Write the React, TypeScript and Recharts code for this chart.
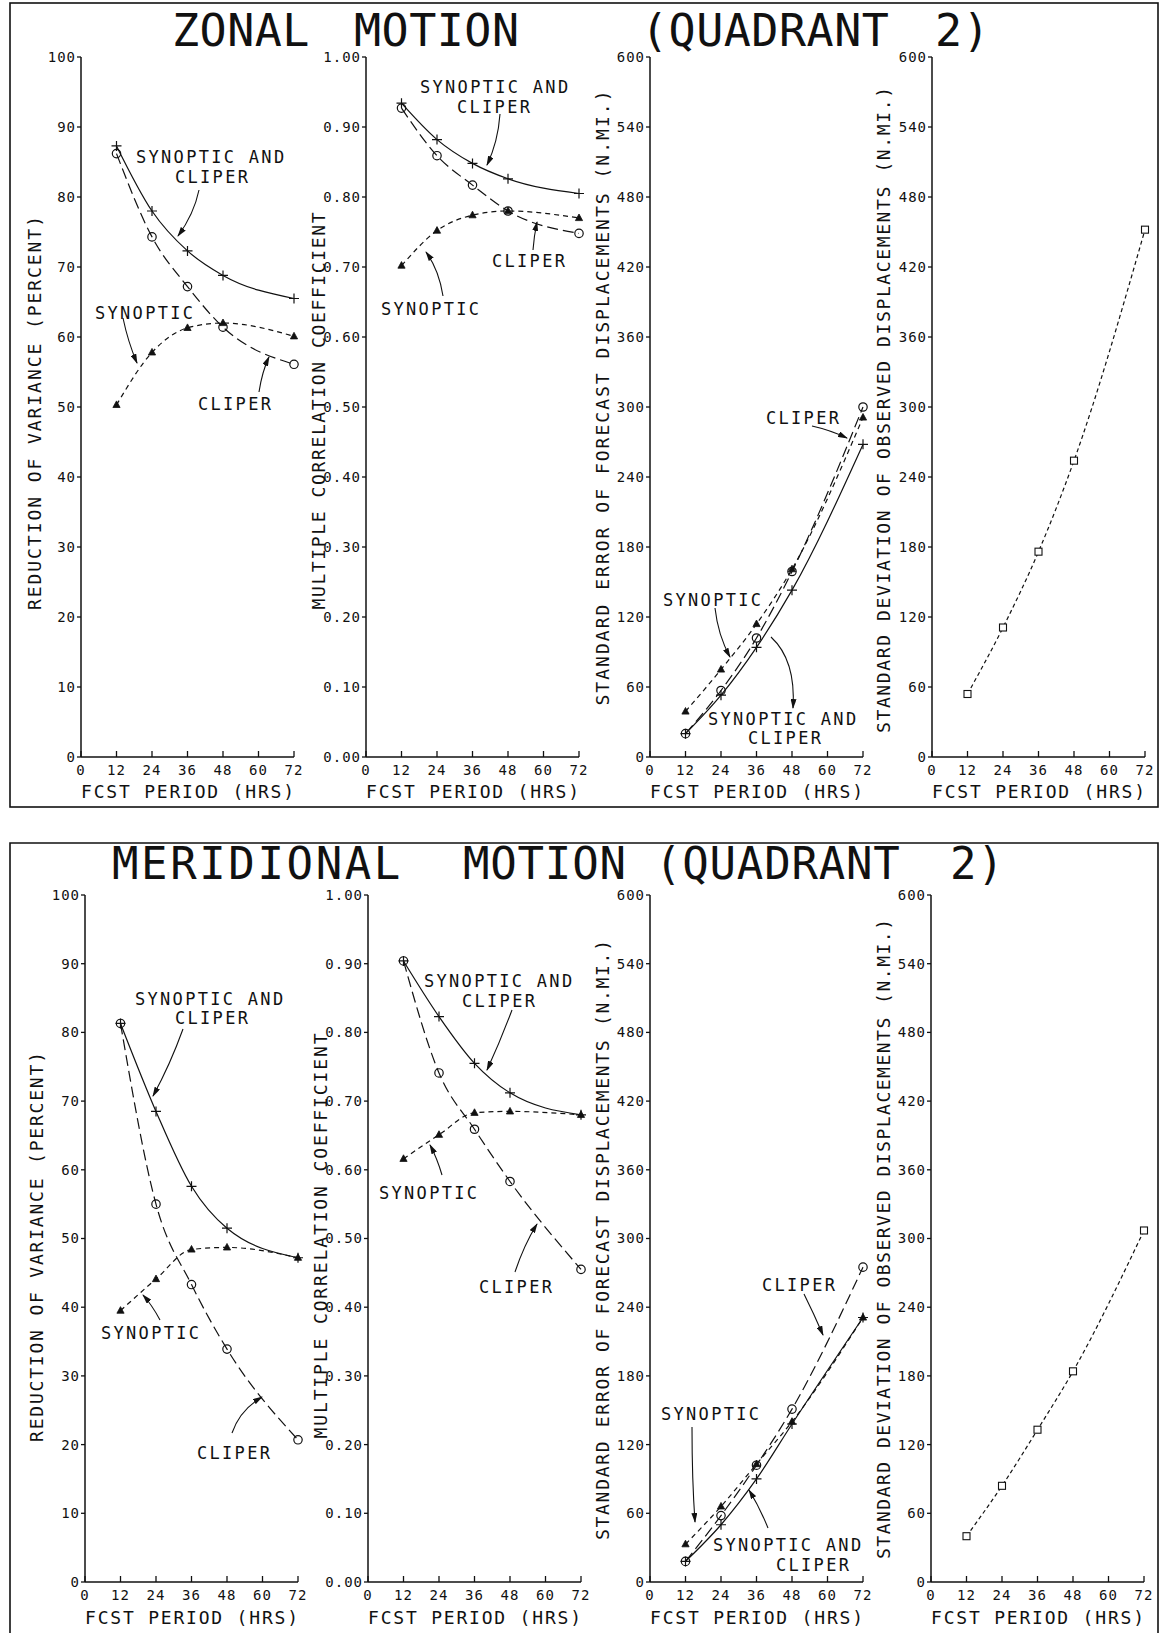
import React from 'react';
import { LineChart, Line, XAxis, YAxis } from 'recharts';

// forecast periods that carry a plotted point
const hours = [12, 24, 36, 48, 72];
const xTicks = [0, 12, 24, 36, 48, 60, 72];
const varTicks = [0, 10, 20, 30, 40, 50, 60, 70, 80, 90, 100];
const corTicks = [0, 0.1, 0.2, 0.3, 0.4, 0.5, 0.6, 0.7, 0.8, 0.9, 1.0];
const nmiTicks = [0, 60, 120, 180, 240, 300, 360, 420, 480, 540, 600];

// zonal motion (quadrant 2)
const zVarBoth = [87.3, 78.0, 72.3, 68.8, 65.5];
const zVarCliper = [86.2, 74.3, 67.2, 61.4, 56.1];
const zVarSyn = [50.3, 57.8, 61.3, 62.0, 60.1];
const zCorBoth = [0.934, 0.882, 0.848, 0.826, 0.805];
const zCorCliper = [0.927, 0.859, 0.817, 0.78, 0.748];
const zCorSyn = [0.702, 0.752, 0.774, 0.78, 0.77];
const zErrBoth = [20, 53, 94, 143, 268];
const zErrCliper = [20, 57, 102, 159, 300];
const zErrSyn = [39, 75, 114, 161, 291];
const zStd = [54, 111, 176, 254, 452];

// meridional motion (quadrant 2)
const mVarBoth = [81.3, 68.5, 57.6, 51.5, 47.2];
const mVarCliper = [81.3, 55.0, 43.3, 33.9, 20.7];
const mVarSyn = [39.5, 44.1, 48.4, 48.7, 47.2];
const mCorBoth = [0.904, 0.823, 0.755, 0.712, 0.68];
const mCorCliper = [0.904, 0.741, 0.659, 0.583, 0.455];
const mCorSyn = [0.616, 0.651, 0.683, 0.685, 0.68];
const mErrBoth = [18, 50, 90, 138, 231];
const mErrCliper = [18, 58, 102, 151, 275];
const mErrSyn = [33, 66, 103, 140, 231];
const mStd = [40, 84, 133, 184, 307];

const rows3 = (both: number[], cliper: number[], syn: number[]) =>
  hours.map((h, i) => ({ h, both: both[i], cliper: cliper[i], syn: syn[i] }));
const rows1 = (std: number[]) => hours.map((h, i) => ({ h, std: std[i] }));

const INK = '#111';
const FONT = 'DejaVu Sans Mono';
const PW = 213;
const TOP_ROW = { y: 57, h: 700, xs: [81, 366, 650, 932] };
const BOT_ROW = { y: 895, h: 687, xs: [85, 368, 650, 931] };

// markers
const plusDot = (p: any) =>
  p.cx == null ? <g key={`n${p.index}`} /> : (
    <path key={`p${p.index}`} d={`M${p.cx - 5},${p.cy}H${p.cx + 5}M${p.cx},${p.cy - 5}V${p.cy + 5}`} stroke={INK} strokeWidth={1.2} fill="none" />
  );
const circleDot = (p: any) =>
  p.cx == null ? <g key={`n${p.index}`} /> : (
    <circle key={`c${p.index}`} cx={p.cx} cy={p.cy} r={4.2} fill="none" stroke={INK} strokeWidth={1.2} />
  );
const triDot = (p: any) =>
  p.cx == null ? <g key={`n${p.index}`} /> : (
    <path key={`t${p.index}`} d={`M${p.cx},${p.cy - 4}L${p.cx + 3.6},${p.cy + 2.6}L${p.cx - 3.6},${p.cy + 2.6}Z`} fill={INK} stroke={INK} strokeWidth={0.8} />
  );
const squareDot = (p: any) =>
  p.cx == null ? <g key={`n${p.index}`} /> : (
    <rect key={`s${p.index}`} x={p.cx - 3.5} y={p.cy - 3.5} width={7} height={7} fill="#fff" stroke={INK} strokeWidth={1.1} />
  );

const threeSeries = [
  { key: 'syn', dash: '5 4', dot: triDot },
  { key: 'cliper', dash: '11 5', dot: circleDot },
  { key: 'both', dash: undefined, dot: plusDot },
];
const stdSeries = [{ key: 'std', dash: '4 3', dot: squareDot }];

const tickStyle = { fontSize: 14, fill: INK, fontFamily: FONT, letterSpacing: 1 };
const L = 60, R = 10, T = 10, B = 30;

interface PanelProps {
  x: number; y: number; h: number;
  data: any[];
  series: { key: string; dash?: string; dot: (p: any) => React.ReactElement }[];
  yDomain: [number, number];
  yTicks: number[];
  fmt: (v: number) => string;
}

const Panel: React.FC<PanelProps> = ({ x, y, h, data, series, yDomain, yTicks, fmt }) => (
  <div style={{ position: 'absolute', left: x - L, top: y - T }}>
    <LineChart width={PW + L + R} height={h + T + B} data={data} margin={{ top: T, right: R, bottom: 0, left: 0 }}>
      <XAxis xAxisId="b" dataKey="h" type="number" domain={[0, 72]} ticks={xTicks} interval={0} height={B}
        tickSize={-6} tickMargin={14} tick={tickStyle} axisLine={{ stroke: INK, strokeWidth: 1.5 }} tickLine={{ stroke: INK, strokeWidth: 1.3 }} />
      <XAxis xAxisId="t" orientation="top" dataKey="h" type="number" domain={[0, 72]} ticks={xTicks} interval={0} height={0}
        tickSize={-6} tick={false} axisLine={{ stroke: INK, strokeWidth: 1.5 }} tickLine={{ stroke: INK, strokeWidth: 1.3 }} />
      <YAxis yAxisId="l" type="number" domain={yDomain} ticks={yTicks} interval={0} width={L} tickSize={4} tickMargin={1}
        tick={tickStyle} tickFormatter={fmt} axisLine={{ stroke: INK, strokeWidth: 1.5 }} tickLine={{ stroke: INK, strokeWidth: 1.3 }} />
      <YAxis yAxisId="r" orientation="right" type="number" domain={yDomain} ticks={yTicks} interval={0} width={0}
        tickSize={-6} tick={false} axisLine={{ stroke: INK, strokeWidth: 1.5 }} tickLine={{ stroke: INK, strokeWidth: 1.3 }} />
      <Line xAxisId="t" yAxisId="r" dataKey={series[0].key} stroke="none" dot={false} activeDot={false} isAnimationActive={false} />
      {series.map((s) => (
        <Line key={s.key} xAxisId="b" yAxisId="l" type="monotone" dataKey={s.key} stroke={INK} strokeWidth={1.2}
          strokeDasharray={s.dash} dot={s.dot} activeDot={false} isAnimationActive={false} />
      ))}
    </LineChart>
  </div>
);

const fmtInt = (v: number) => String(v);
const fmtCor = (v: number) => v.toFixed(2);

// annotation labels: [text, x, centre y]
const notes: [string, number, number][] = [
  ['SYNOPTIC AND', 136, 156], ['CLIPER', 175, 176], ['SYNOPTIC', 95, 312], ['CLIPER', 198, 403],
  ['SYNOPTIC AND', 420, 86], ['CLIPER', 457, 106], ['CLIPER', 492, 260], ['SYNOPTIC', 381, 308],
  ['CLIPER', 766, 417], ['SYNOPTIC', 663, 599], ['SYNOPTIC AND', 708, 718], ['CLIPER', 748, 737],
  ['SYNOPTIC AND', 135, 998], ['CLIPER', 175, 1017], ['SYNOPTIC', 101, 1332], ['CLIPER', 197, 1452],
  ['SYNOPTIC AND', 424, 980], ['CLIPER', 462, 1000], ['SYNOPTIC', 379, 1192], ['CLIPER', 479, 1286],
  ['CLIPER', 762, 1284], ['SYNOPTIC', 661, 1413], ['SYNOPTIC AND', 713, 1544], ['CLIPER', 776, 1564],
];
const arrows = [
  'M199,190 Q194,214 178,236', 'M123,318 Q128,342 137,363', 'M259,392 Q262,372 269,357',
  'M500,114 Q498,142 487,165', 'M443,296 Q439,270 426,252', 'M533,250 Q534,236 537,222',
  'M812,426 Q830,430 847,438', 'M715,608 Q718,635 730,657', 'M771,637 Q796,660 793,708',
  'M183,1029 Q170,1065 153,1096', 'M160,1320 Q152,1305 143,1295', 'M232,1433 Q240,1410 262,1397',
  'M512,1010 Q500,1042 487,1070', 'M442,1175 Q437,1158 430,1145', 'M515,1272 Q524,1245 537,1224',
  'M804,1294 Q814,1314 823,1335', 'M692,1427 Q692,1480 695,1522', 'M768,1528 Q760,1508 749,1490',
];
// rotated y titles: [text, x, centre y, length]
const yTitles: [string, number, number, number][] = [
  ['REDUCTION OF VARIANCE (PERCENT)', 34, 413, 394],
  ['MULTIPLE CORRELATION COEFFICIENT', 318, 411, 397],
  ['STANDARD ERROR OF FORECAST DISPLACEMENTS (N.MI.)', 602, 398, 615],
  ['STANDARD DEVIATION OF OBSERVED DISPLACEMENTS (N.MI.)', 883, 410, 646],
  ['REDUCTION OF VARIANCE (PERCENT)', 36, 1247, 390],
  ['MULTIPLE CORRELATION COEFFICIENT', 320, 1236, 405],
  ['STANDARD ERROR OF FORECAST DISPLACEMENTS (N.MI.)', 602, 1240, 600],
  ['STANDARD DEVIATION OF OBSERVED DISPLACEMENTS (N.MI.)', 883, 1239, 640],
];
// title words: [text, x, baseline, letter spacing]
const titleWords: [string, number, number, number][] = [
  ['ZONAL', 172, 46, 0.5], ['MOTION', 354, 46, 0.5], ['(QUADRANT', 641, 46, 0.5], ['2)', 935, 46, 0.5],
  ['MERIDIONAL', 112, 879, 2.6], ['MOTION', 463, 879, 0.8], ['(QUADRANT', 655, 879, 0.8], ['2)', 950, 879, 0.8],
];

const Overlay: React.FC = () => (
  <svg width={1161} height={1633} style={{ position: 'absolute', left: 0, top: 0, pointerEvents: 'none' }}
    fontFamily={FONT} fill={INK}>
    <defs>
      <marker id="head" viewBox="0 0 10 6" refX={9} refY={3} markerWidth={10} markerHeight={6} markerUnits="userSpaceOnUse" orient="auto">
        <path d="M0,0 L10,3 L0,6 Z" fill={INK} />
      </marker>
    </defs>
    <rect x={10} y={3} width={1148} height={804} fill="none" stroke={INK} strokeWidth={1.6} />
    <path d="M10,1633 V843 H1158 V1633" fill="none" stroke={INK} strokeWidth={1.6} />
    {titleWords.map(([t, x, y, ls], i) => (
      <text key={`w${i}`} x={x} y={y} fontSize={i < 4 ? 45 : 44} letterSpacing={ls}>{t}</text>
    ))}
    {yTitles.map(([t, x, y, len], i) => (
      <text key={`y${i}`} transform={`translate(${x},${y}) rotate(-90)`} textAnchor="middle" dominantBaseline="central"
        fontSize={18} textLength={len} lengthAdjust="spacing">{t}</text>
    ))}
    {[TOP_ROW, BOT_ROW].map((row, r) =>
      row.xs.map((x, i) => (
        <text key={`x${r}${i}`} x={x} y={row.y + row.h + (r === 0 ? 41 : 42)} fontSize={18}
          textLength={PW} lengthAdjust="spacing">FCST PERIOD (HRS)</text>
      ))
    )}
    {notes.map(([t, x, y], i) => (
      <text key={`n${i}`} x={x} y={y + 6.5} fontSize={17} letterSpacing={2.3}>{t}</text>
    ))}
    {arrows.map((d, i) => (
      <path key={`a${i}`} d={d} fill="none" stroke={INK} strokeWidth={1.1} markerEnd="url(#head)" />
    ))}
  </svg>
);

export default function App() {
  return (
    <div style={{ position: 'absolute', left: 0, top: 0, width: 1161, height: 1633, background: '#fff', fontFamily: FONT }}>
      <Panel x={TOP_ROW.xs[0]} y={TOP_ROW.y} h={TOP_ROW.h} data={rows3(zVarBoth, zVarCliper, zVarSyn)} series={threeSeries}
        yDomain={[0, 100]} yTicks={varTicks} fmt={fmtInt} />
      <Panel x={TOP_ROW.xs[1]} y={TOP_ROW.y} h={TOP_ROW.h} data={rows3(zCorBoth, zCorCliper, zCorSyn)} series={threeSeries}
        yDomain={[0, 1]} yTicks={corTicks} fmt={fmtCor} />
      <Panel x={TOP_ROW.xs[2]} y={TOP_ROW.y} h={TOP_ROW.h} data={rows3(zErrBoth, zErrCliper, zErrSyn)} series={threeSeries}
        yDomain={[0, 600]} yTicks={nmiTicks} fmt={fmtInt} />
      <Panel x={TOP_ROW.xs[3]} y={TOP_ROW.y} h={TOP_ROW.h} data={rows1(zStd)} series={stdSeries}
        yDomain={[0, 600]} yTicks={nmiTicks} fmt={fmtInt} />
      <Panel x={BOT_ROW.xs[0]} y={BOT_ROW.y} h={BOT_ROW.h} data={rows3(mVarBoth, mVarCliper, mVarSyn)} series={threeSeries}
        yDomain={[0, 100]} yTicks={varTicks} fmt={fmtInt} />
      <Panel x={BOT_ROW.xs[1]} y={BOT_ROW.y} h={BOT_ROW.h} data={rows3(mCorBoth, mCorCliper, mCorSyn)} series={threeSeries}
        yDomain={[0, 1]} yTicks={corTicks} fmt={fmtCor} />
      <Panel x={BOT_ROW.xs[2]} y={BOT_ROW.y} h={BOT_ROW.h} data={rows3(mErrBoth, mErrCliper, mErrSyn)} series={threeSeries}
        yDomain={[0, 600]} yTicks={nmiTicks} fmt={fmtInt} />
      <Panel x={BOT_ROW.xs[3]} y={BOT_ROW.y} h={BOT_ROW.h} data={rows1(mStd)} series={stdSeries}
        yDomain={[0, 600]} yTicks={nmiTicks} fmt={fmtInt} />
      <Overlay />
    </div>
  );
}
